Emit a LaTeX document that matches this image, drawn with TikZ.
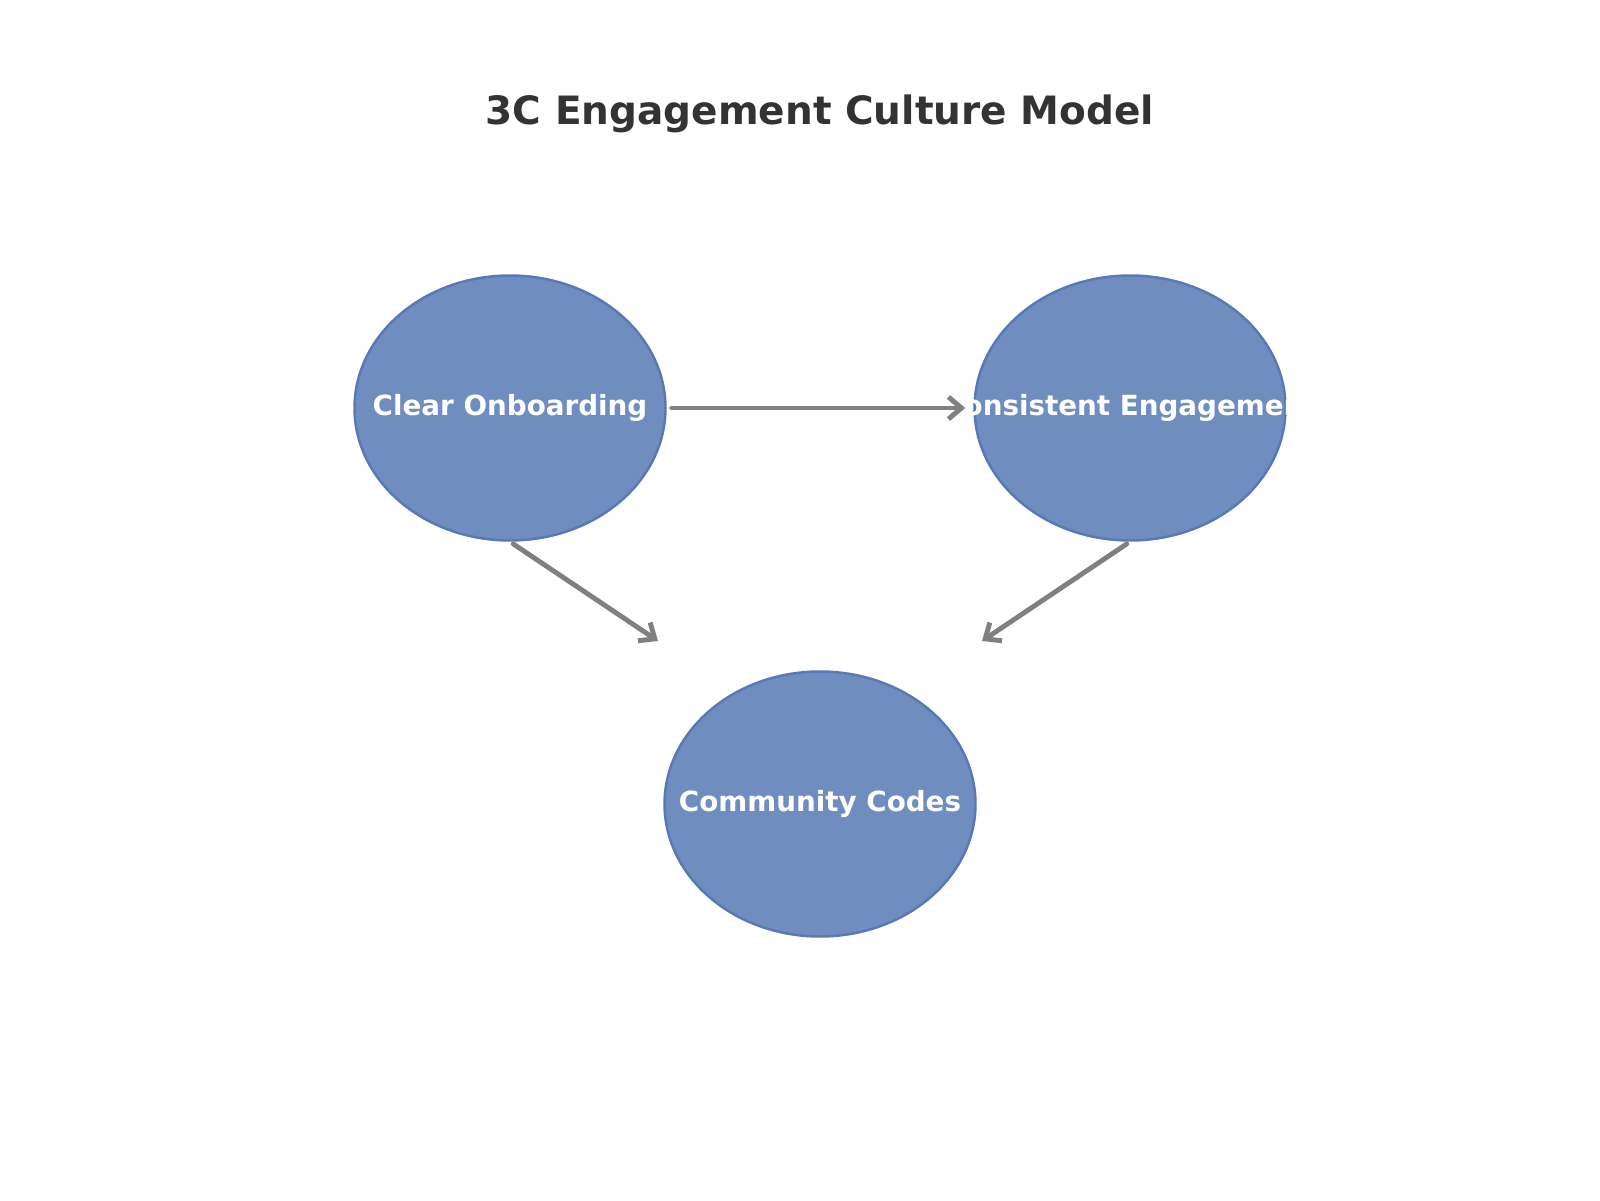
\documentclass[tikz,border=0pt]{standalone}
\usepackage{fontspec}
\setmainfont{DejaVu Sans}
\usetikzlibrary{arrows.meta,shapes.geometric}
\definecolor{bubblefill}{RGB}{111,141,191}
\definecolor{bubbleline}{RGB}{88,120,182}
\definecolor{titlegray}{RGB}{51,51,51}
\definecolor{linkgray}{RGB}{128,128,128}
\begin{document}
\begin{tikzpicture}[
  bubble/.style={ellipse,draw=bubbleline,fill=bubblefill,line width=0.7pt,
                 minimum width=3.11cm,minimum height=2.65cm,inner sep=0pt},
  bubbletext/.style={text=white,font=\fontsize{7.9}{9.5}\selectfont\bfseries,inner sep=0pt},
  link/.style={draw=linkgray,line width=1.4pt,line cap=round,
               -{Straight Barb[length=1.3mm,width=2.2mm,line width=1.4pt]}}]
\useasboundingbox (0,0) rectangle (16,12);
\fill[white] (0,0) rectangle (16,12);
\node[text=titlegray,font=\fontsize{11.1}{13}\selectfont\bfseries] (title) at (8.20,10.86)
  {3C Engagement Culture Model};
\node[bubble,label={[bubbletext]center:Clear Onboarding}] (co) at (5.10,7.92) {};
\node[bubble,label={[bubbletext]center:Consistent Engagement}] (ce) at (11.30,7.92) {};
\node[bubble,label={[bubbletext]center:Community Codes}] (cc) at (8.20,3.96) {};
\coordinate (inA) at (6.58,5.59);
\coordinate (inB) at (9.82,5.59);
\draw[link,shorten <=0.05cm,shorten >=0.08cm] (co.east) -- (ce.west);
\draw[link,shorten <=0.04cm] (co.south) -- (inA);
\draw[link,shorten <=0.04cm] (ce.south) -- (inB);
\end{tikzpicture}
\end{document}
